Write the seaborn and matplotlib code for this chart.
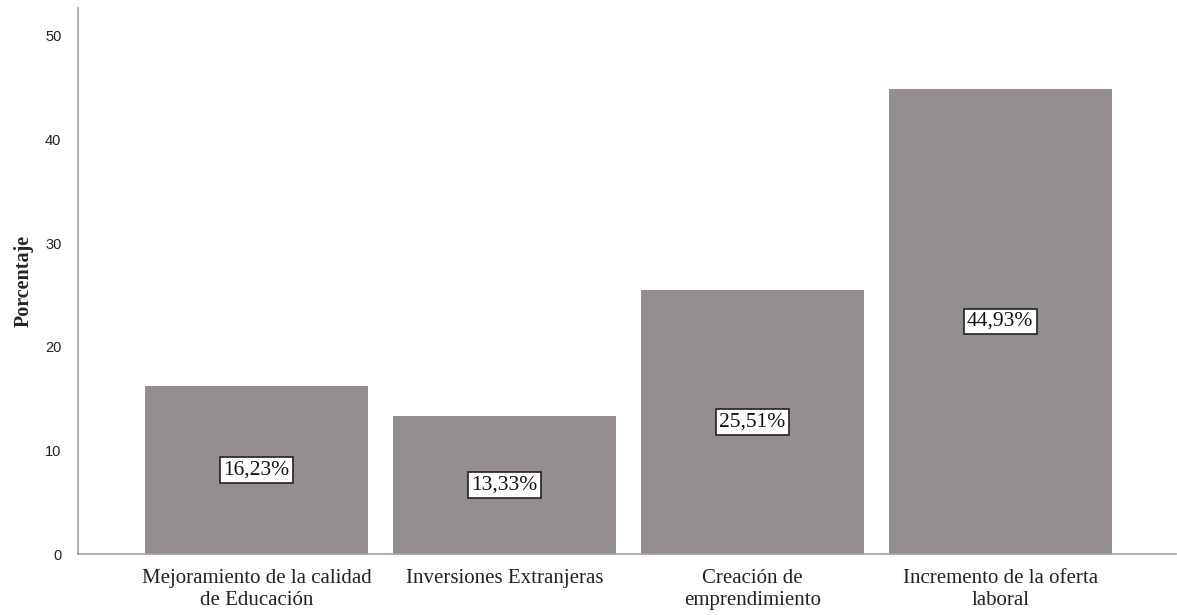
import matplotlib
matplotlib.use('Agg')
import matplotlib.pyplot as plt
import pandas as pd
import seaborn as sns

# datos del gráfico
categorias = ['Mejoramiento de la calidad\nde Educación', 'Inversiones Extranjeras',
              'Creación de\nemprendimiento', 'Incremento de la oferta\nlaboral']
porcentajes = [16.23, 13.33, 25.51, 44.93]
etiquetas = ['16,23%', '13,33%', '25,51%', '44,93%']
yticks = [0, 10, 20, 30, 40, 50]

data = pd.DataFrame({'Categoria': categorias, 'Porcentaje': porcentajes})

sns.set_style('white')
plt.rcParams['font.family'] = ['Liberation Serif', 'DejaVu Serif']

fig = plt.figure(figsize=(11.77, 6.15), dpi=100)
ax = fig.add_axes([0.0663, 0.099, 0.933, 0.888])

sns.barplot(x='Categoria', y='Porcentaje', data=data, color='#948f8e',
            saturation=1, width=0.9, linewidth=0, ax=ax)

# etiquetas de porcentaje en la mitad de cada barra
for i, (v, t) in enumerate(zip(porcentajes, etiquetas)):
    ax.text(i, v / 2, t, ha='center', va='center', fontsize=15.5, color='#111111',
            bbox=dict(boxstyle='square,pad=0.15', facecolor='white', edgecolor='#222222', linewidth=1.2))

ax.set_xlim(-0.72, 3.71)
ax.set_ylim(0, 52.7)
ax.set_yticks(yticks)
ax.set_yticklabels([str(t) for t in yticks], family='Liberation Sans', fontsize=10.5, color='#222222')
ax.tick_params(axis='y', length=0, pad=12)
ax.tick_params(axis='x', length=0, pad=11, labelsize=15, labelcolor='#222222')
for lbl in ax.get_xticklabels():
    lbl.set_linespacing(1.2)
ax.set_xlabel('')
ax.set_ylabel('Porcentaje', fontsize=14.5, fontweight='bold', labelpad=8)

sns.despine(ax=ax)
for s in ['left', 'bottom']:
    ax.spines[s].set_color('#a0a0a0')
    ax.spines[s].set_linewidth(1.2)

plt.savefig('out.png', dpi=100)
